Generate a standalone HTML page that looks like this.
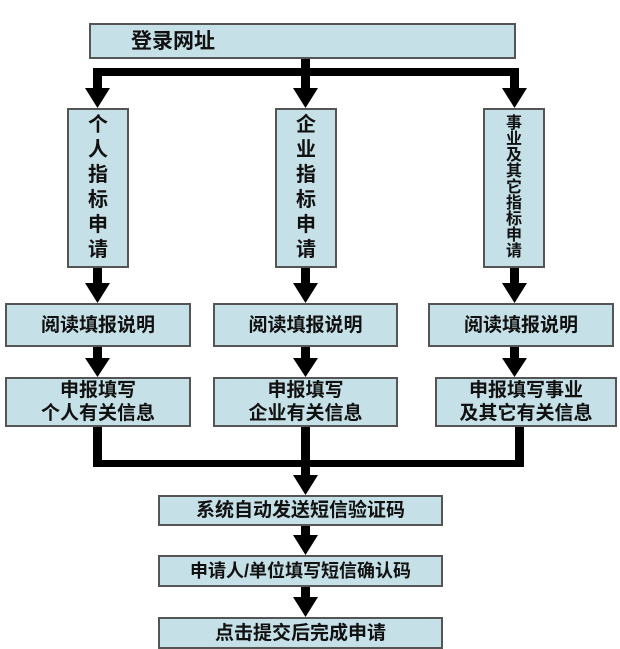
<!DOCTYPE html>
<html><head><meta charset="utf-8"><style>
body{margin:0;width:620px;height:644px;background:#fff;overflow:hidden;position:relative;font-family:"Liberation Sans","Noto Sans CJK SC",sans-serif;font-weight:bold;color:#111}
.b{position:absolute;background:#c5e0e6;border:2px solid #555;box-sizing:border-box;display:flex;align-items:center;justify-content:center;text-align:center;font-size:19px;line-height:23px}
.v{flex-direction:column;line-height:25px;font-size:20px}
</style></head><body>
<svg width="620" height="644" style="position:absolute;left:0;top:0">
<g fill="#000">
<rect x="301" y="58" width="9" height="18"/>
<rect x="93" y="68" width="426" height="8"/>
<rect x="93" y="68" width="9" height="22"/><polygon points="85,88 110,88 97.5,108"/>
<rect x="301" y="68" width="9" height="22"/><polygon points="293,88 318,88 305.5,108"/>
<rect x="510" y="68" width="9" height="22"/><polygon points="502,88 527,88 514.5,108"/>
<rect x="93" y="267" width="9" height="18"/><polygon points="85,283 110,283 97.5,303"/>
<rect x="301" y="267" width="9" height="18"/><polygon points="293,283 318,283 305.5,303"/>
<rect x="510" y="267" width="9" height="18"/><polygon points="502,283 527,283 514.5,303"/>
<rect x="93" y="346" width="9" height="14"/><polygon points="85,358 110,358 97.5,377"/>
<rect x="301" y="346" width="9" height="14"/><polygon points="293,358 318,358 305.5,377"/>
<rect x="510" y="346" width="9" height="14"/><polygon points="502,358 527,358 514.5,377"/>
<rect x="93" y="426" width="9" height="41"/>
<rect x="301" y="426" width="9" height="52"/>
<rect x="515" y="426" width="9" height="41"/>
<rect x="93" y="460" width="431" height="7"/>
<polygon points="293,475 318,475 305.5,495"/>
<rect x="301" y="524" width="9" height="14"/><polygon points="293,535 318,535 305.5,555"/>
<rect x="301" y="586" width="9" height="14"/><polygon points="293,597 318,597 305.5,617"/>
</g></svg>
<div class="b" style="left:89px;top:23px;width:427px;height:36px;justify-content:flex-start;padding-left:40px;font-size:21px">登录网址</div>
<div class="b v" style="left:67px;top:108px;width:62px;height:160px">个<br>人<br>指<br>标<br>申<br>请</div>
<div class="b v" style="left:275px;top:108px;width:62px;height:160px">企<br>业<br>指<br>标<br>申<br>请</div>
<div class="b v" style="left:483px;top:108px;width:62px;height:160px;line-height:16px;font-size:16px">事<br>业<br>及<br>其<br>它<br>指<br>标<br>申<br>请</div>
<div class="b" style="left:5px;top:303px;width:186px;height:44px">阅读填报说明</div>
<div class="b" style="left:213px;top:303px;width:185px;height:44px">阅读填报说明</div>
<div class="b" style="left:428px;top:303px;width:186px;height:44px">阅读填报说明</div>
<div class="b" style="left:5px;top:377px;width:186px;height:50px">申报填写<br>个人有关信息</div>
<div class="b" style="left:213px;top:377px;width:185px;height:50px">申报填写<br>企业有关信息</div>
<div class="b" style="left:435px;top:377px;width:182px;height:50px">申报填写事业<br>及其它有关信息</div>
<div class="b" style="left:158px;top:495px;width:285px;height:31px">系统自动发送短信验证码</div>
<div class="b" style="left:158px;top:555px;width:285px;height:32px;font-size:18px">申请人/单位填写短信确认码</div>
<div class="b" style="left:158px;top:617px;width:285px;height:32px;align-items:flex-start;padding-top:3px">点击提交后完成申请</div>
</body></html>
